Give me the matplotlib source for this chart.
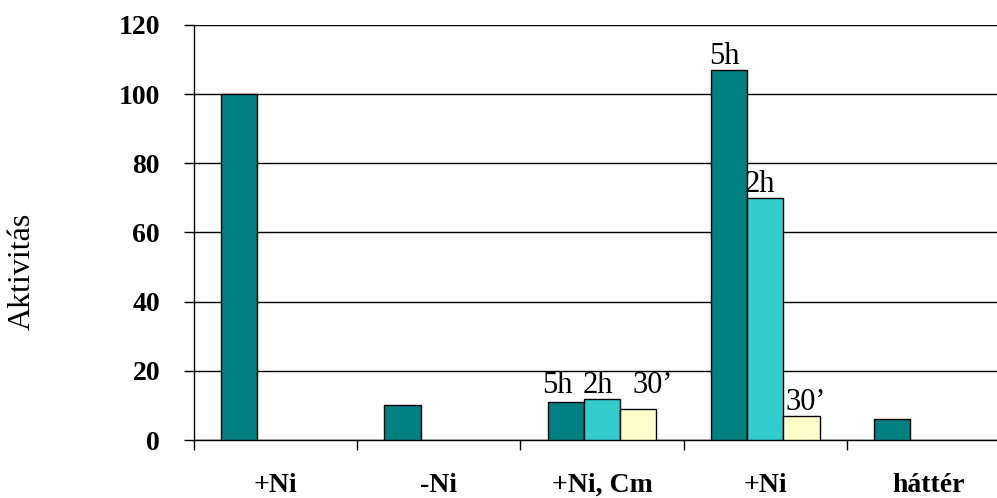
import matplotlib
matplotlib.use("Agg")
import matplotlib.pyplot as plt
import numpy as np

categories = ["+Ni", "-Ni", "+Ni, Cm", "+Ni", "háttér"]
series_5h = [100, 10, 11, 107, 6]
series_2h = [0, 0, 12, 70, 0]
series_30 = [0, 0, 9, 7, 0]
series_names = ["5h", "2h", "30’"]
# which groups carry time labels above their bars
labelled_groups = [2, 3]
y_ticks = [0, 20, 40, 60, 80, 100, 120]

colors = ["#008080", "#33CCCC", "#FFFFCC"]
serif = ["Liberation Serif", "DejaVu Serif"]
PX = 0.72  # points per pixel at 100 dpi

fig = plt.figure(figsize=(9.97, 4.98), dpi=100)
W, H = 997, 498
left, right, bottom, top = 194, 1010, 440, 25
ax = fig.add_axes([left / W, 1 - bottom / H, (right - left) / W, (bottom - top) / H])

x = np.arange(len(categories))
bw = 0.222
all_series = [series_5h, series_2h, series_30]
for i, (vals, c) in enumerate(zip(all_series, colors)):
    pos = x + (i - 1) * bw
    v = np.array(vals, dtype=float)
    mask = v > 0
    ax.bar(pos[mask], v[mask], width=bw, color=c, edgecolor="black", linewidth=1.0, zorder=3)

# horizontal nudges (pixels) for the time labels of each labelled group
label_shift = {2: [-8, -4, 14], 3: [-5, -5, 4]}
for g in labelled_groups:
    vals = [s[g] for s in all_series]
    for i, name in enumerate(series_names):
        ypos = max(vals) if g == 2 else vals[i]
        ax.annotate(name, (x[g] + (i - 1) * bw, ypos),
                    xytext=(label_shift[g][i] * PX, 6 * PX), textcoords="offset points",
                    ha="center", va="baseline", fontsize=22, family=serif, zorder=4)

ax.set_xlim(-0.5, len(categories) - 0.5)
ax.set_ylim(0, 120)
ax.set_yticks(y_ticks)
ax.set_yticklabels([str(t) for t in y_ticks], fontsize=20, fontweight="bold", family=serif)
ax.yaxis.grid(True, color="black", linewidth=1.0, zorder=0)
ax.set_axisbelow(True)

ax.set_xticks(np.arange(len(categories) + 1) - 0.5)
ax.set_xticklabels([])
ax.tick_params(axis="x", direction="out", length=10 * PX, width=1, color="black")
ax.tick_params(axis="y", direction="out", length=10 * PX, width=1, color="black", pad=24 * PX)
for i, lab in enumerate(categories):
    ax.text(x[i], -52 / (bottom - top), lab, transform=ax.get_xaxis_transform(),
            ha="center", va="baseline", fontsize=20, fontweight="bold", family=serif)

for s in ["top", "right"]:
    ax.spines[s].set_visible(False)
ax.spines["left"].set_linewidth(1.0)
ax.spines["bottom"].set_linewidth(1.0)

fig.text(22 / W, 1 - 271 / H, "Aktivitás", rotation=90, ha="center", va="center",
         fontsize=23, family=serif)

fig.savefig("out.png", dpi=100)
